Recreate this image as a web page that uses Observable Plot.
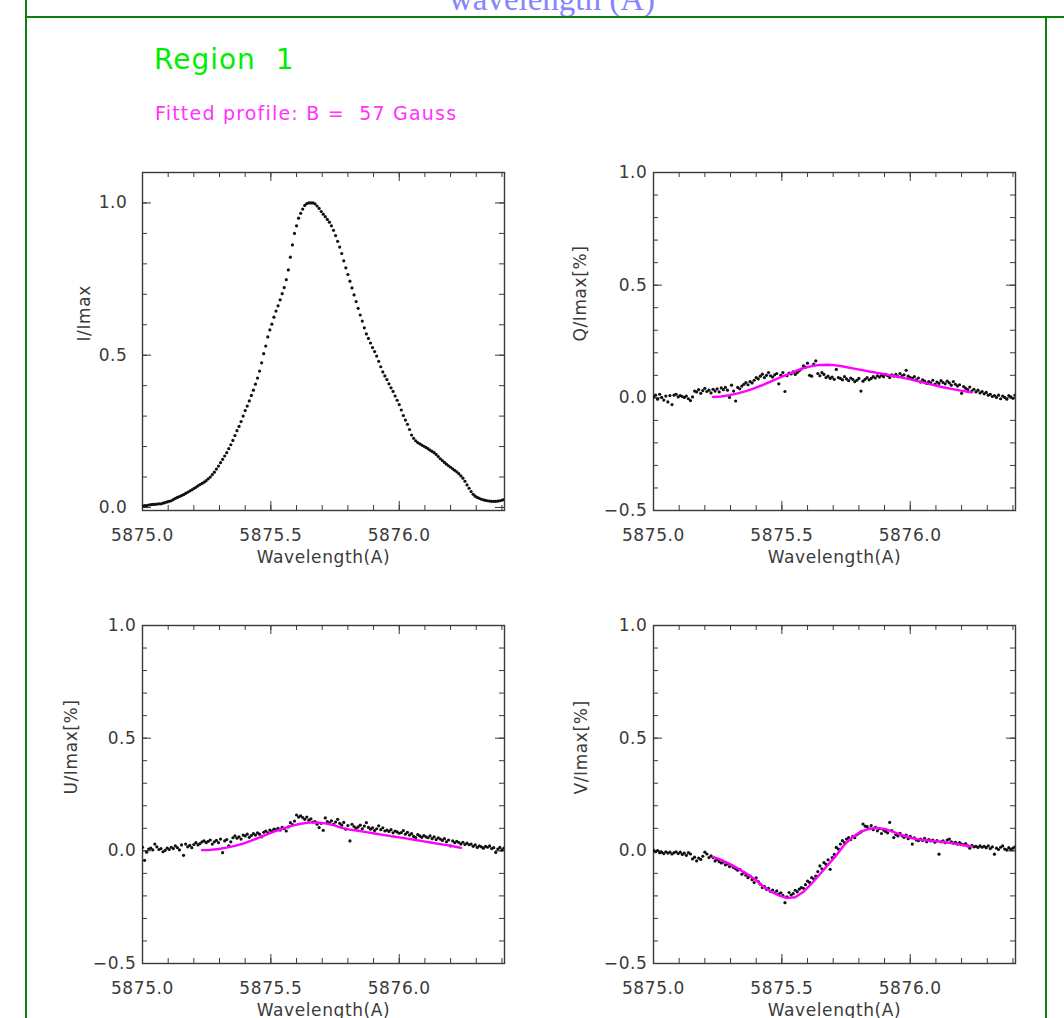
<!DOCTYPE html>
<html><head><meta charset="utf-8">
<script src="https://cdn.jsdelivr.net/npm/d3@7"></script>
<script src="https://cdn.jsdelivr.net/npm/@observablehq/plot@0.6"></script>
<style>
html,body{margin:0;padding:0;background:#fff;}
#page{position:relative;width:1064px;height:1018px;overflow:hidden;background:#fff;font-family:"DejaVu Sans",sans-serif;}
.abs{position:absolute;white-space:pre;}
.gl{position:absolute;background:#0b800b;}
#topword{left:0;width:1104px;top:-19px;text-align:center;font-family:"Liberation Serif",serif;font-size:33px;color:#8585ff;}
#region{left:154px;top:43px;font-size:28px;color:#00ee00;letter-spacing:1px;}
#fitted{left:155px;top:102px;font-size:19px;color:#ff33ff;letter-spacing:1.2px;}
</style></head><body><div id="page">
<div class="abs" id="topword">wavelength (Å)</div>
<div class="gl" style="left:25px;top:0;width:2px;height:1018px;"></div>
<div class="gl" style="left:26px;top:16px;width:1038px;height:2px;"></div>
<div class="gl" style="left:1045px;top:17px;width:2px;height:1001px;"></div>
<div class="abs" id="region">Region  1</div>
<div class="abs" id="fitted">Fitted profile: B =  57 Gauss</div>
</div>
<script>
// wavelength sampling, offsets from 5875.0 Å in mÅ
const offsetsMA = [0,8,16,24,32,40,48,56,64,72,80,88,96,104,112,120,128,136,144,152,160,168,176,184,192,200,208,216,224,232,240,248,256,264,272,280,288,296,304,312,320,328,336,344,352,360,368,376,384,392,400,408,416,424,432,440,448,456,464,472,480,488,496,504,512,520,528,536,544,552,560,568,576,584,592,600,608,616,624,632,640,648,656,664,672,680,688,696,704,712,720,728,736,744,752,760,768,776,784,792,800,808,816,824,832,840,848,856,864,872,880,888,896,904,912,920,928,936,944,952,960,968,976,984,992,1000,1008,1016,1024,1032,1040,1048,1056,1064,1072,1080,1088,1096,1104,1112,1120,1128,1136,1144,1152,1160,1168,1176,1184,1192,1200,1208,1216,1224,1232,1240,1248,1256,1264,1272,1280,1288,1296,1304,1312,1320,1328,1336,1344,1352,1360,1368,1376,1384,1392,1400,1408];

const stokesI = [
0.005,0.006,0.006,0.008,0.009,0.010,0.010,0.011,0.012,0.012,
0.014,0.016,0.018,0.020,0.022,0.026,0.030,0.033,0.036,0.039,
0.042,0.046,0.050,0.054,0.058,0.062,0.066,0.071,0.075,0.079,
0.083,0.088,0.094,0.100,0.108,0.116,0.126,0.136,0.147,0.158,
0.169,0.180,0.193,0.206,0.220,0.236,0.252,0.266,0.282,0.300,
0.318,0.333,0.350,0.368,0.385,0.405,0.425,0.448,0.475,0.505,
0.530,0.560,0.583,0.602,0.625,0.645,0.662,0.682,0.702,0.722,
0.748,0.780,0.822,0.862,0.900,0.925,0.950,0.966,0.980,0.992,
0.998,1.000,1.000,1.000,0.997,0.990,0.982,0.972,0.963,0.955,
0.946,0.937,0.925,0.910,0.893,0.874,0.855,0.834,0.810,0.787,
0.765,0.743,0.721,0.698,0.676,0.654,0.632,0.612,0.590,0.570,
0.555,0.540,0.525,0.512,0.497,0.480,0.462,0.445,0.432,0.420,
0.406,0.393,0.381,0.366,0.352,0.338,0.320,0.302,0.287,0.273,
0.256,0.238,0.227,0.219,0.213,0.209,0.205,0.201,0.197,0.193,
0.188,0.184,0.180,0.174,0.167,0.160,0.154,0.148,0.142,0.137,
0.132,0.127,0.122,0.117,0.111,0.104,0.096,0.086,0.074,0.063,
0.052,0.043,0.037,0.033,0.030,0.027,0.025,0.023,0.022,0.021,
0.020,0.020,0.020,0.021,0.022,0.024,0.026];

const stokesQ = [
0.004,0.012,-0.006,0.016,0.002,-0.010,0.008,-0.018,0.010,-0.030,
0.012,0.016,0.004,0.010,0.006,0.002,0.008,-0.004,-0.012,0.004,
0.030,0.026,0.036,0.020,0.032,0.042,0.028,0.034,0.022,0.038,
0.030,0.040,0.026,0.044,0.036,0.046,0.034,0.002,0.056,0.030,
-0.014,0.046,0.040,0.052,0.060,0.068,0.058,0.072,0.066,0.078,
0.090,0.084,0.096,0.105,0.090,0.100,0.112,0.098,0.092,0.102,
0.108,0.062,0.100,0.112,0.028,0.098,0.110,0.106,0.115,0.104,
0.112,0.120,0.128,0.142,0.136,0.154,0.100,0.096,0.150,0.164,
0.108,0.098,0.112,0.104,0.090,0.096,0.086,0.092,0.082,0.126,
0.090,0.086,0.080,0.094,0.084,0.076,0.088,0.082,0.072,0.078,
0.086,0.030,0.074,0.082,0.090,0.080,0.086,0.094,0.088,0.098,
0.092,0.100,0.094,0.104,0.098,0.090,0.102,0.096,0.104,0.094,
0.108,0.098,0.102,0.122,0.096,0.090,0.086,0.094,0.080,0.088,
0.070,0.080,0.074,0.064,0.072,0.066,0.078,0.060,0.070,0.064,
0.076,0.068,0.062,0.074,0.066,0.056,0.072,0.060,0.052,0.058,
0.020,0.050,0.042,0.036,0.048,0.030,0.038,0.026,0.034,0.022,
0.028,0.018,0.024,0.012,0.016,0.006,0.010,0.002,0.012,-0.004,
0.008,0.002,-0.006,0.010,0.004,-0.002,0.012];

const stokesU = [
0.016,-0.042,-0.006,0.008,0.012,0.004,0.030,0.018,0.006,0.010,
-0.004,0.002,0.012,0.006,0.016,0.010,0.022,0.014,0.004,0.026,
-0.020,0.030,0.018,0.024,0.014,0.028,0.036,0.026,0.032,0.040,
0.044,0.036,0.042,0.048,0.030,0.040,0.046,0.036,0.052,-0.008,
0.044,0.050,0.022,0.040,0.058,0.066,0.056,0.062,0.052,0.070,
0.066,0.074,0.060,0.068,0.076,0.070,0.080,0.074,0.062,0.082,
0.088,0.080,0.092,0.086,0.096,0.094,0.100,0.092,0.104,0.098,
0.088,0.106,0.125,0.116,0.132,0.159,0.150,0.155,0.148,0.140,
0.150,0.136,0.142,0.128,0.130,0.118,0.103,0.122,0.091,0.146,
0.130,0.124,0.133,0.118,0.128,0.140,0.122,0.114,0.126,0.096,
0.112,0.044,0.118,0.108,0.100,0.106,0.114,0.098,0.110,0.125,
0.104,0.096,0.102,0.090,0.098,0.111,0.094,0.102,0.088,0.092,
0.086,0.094,0.080,0.088,0.084,0.078,0.081,0.090,0.074,0.082,
0.070,0.076,0.064,0.059,0.072,0.066,0.060,0.068,0.062,0.058,
0.066,0.054,0.062,0.050,0.058,0.052,0.046,0.054,0.040,0.048,
0.022,0.044,0.036,0.042,0.037,0.030,0.038,0.028,0.034,0.027,
0.030,0.020,0.026,0.015,0.022,0.018,0.012,0.020,0.016,0.022,
0.010,0.014,-0.007,0.008,0.015,0.004,0.012];

const stokesV = [
0.002,-0.004,0.001,-0.008,-0.006,-0.012,-0.004,-0.010,-0.006,-0.014,
-0.008,-0.004,-0.012,-0.006,-0.016,-0.010,-0.020,-0.008,-0.014,-0.036,
-0.028,-0.045,-0.032,-0.038,-0.024,-0.006,-0.014,-0.030,-0.022,-0.030,
-0.045,-0.038,-0.048,-0.054,-0.050,-0.062,-0.058,-0.070,-0.066,-0.074,
-0.080,-0.086,-0.082,-0.104,-0.096,-0.108,-0.119,-0.112,-0.128,-0.141,
-0.120,-0.136,-0.148,-0.163,-0.158,-0.171,-0.166,-0.180,-0.174,-0.186,
-0.178,-0.192,-0.186,-0.198,-0.230,-0.204,-0.185,-0.196,-0.190,-0.175,
-0.182,-0.170,-0.163,-0.166,-0.150,-0.134,-0.140,-0.119,-0.124,-0.112,
-0.092,-0.067,-0.080,-0.052,-0.060,-0.040,-0.082,-0.030,-0.016,0.015,
0.008,0.030,0.045,0.036,0.052,0.059,0.050,0.064,0.058,0.071,
0.078,0.084,0.119,0.110,0.107,0.098,0.112,0.094,0.104,0.089,
0.098,0.077,0.092,0.086,0.080,0.126,0.090,0.059,0.072,0.066,
0.078,0.067,0.060,0.070,0.054,0.064,0.030,0.058,0.048,0.045,
0.052,0.046,0.055,0.040,0.050,0.044,0.048,0.038,0.045,-0.015,
0.040,0.044,0.036,0.048,0.052,0.040,0.034,0.038,0.030,0.036,
0.030,0.026,0.032,0.022,0.012,0.024,0.018,0.020,0.015,0.022,
0.016,0.020,0.014,0.022,0.010,0.018,-0.015,0.012,0.006,0.016,
0.022,0.008,0.004,0.014,0.007,0.012,0.018];

// fitted profiles (magenta)
const fitOffsetsMA = [232,264,296,328,360,392,424,456,488,520,552,584,616,648,680,712,744,776,808,840,872,904,936,968,1000,1032,1064,1096,1128,1160,1192,1224,1240];
const fitQ = [0.004,0.006,0.012,0.020,0.030,0.042,0.056,0.072,0.088,0.103,0.118,0.132,0.141,0.146,0.147,0.144,0.138,0.131,0.124,0.117,0.111,0.104,0.097,0.090,0.082,0.073,0.064,0.055,0.047,0.040,0.033,0.027,0.024];
const fitU = [0.003,0.004,0.008,0.014,0.022,0.032,0.045,0.060,0.074,0.088,0.101,0.112,0.120,0.125,0.126,0.122,0.114,0.102,0.094,0.089,0.083,0.077,0.071,0.065,0.060,0.054,0.048,0.042,0.036,0.030,0.024,0.017,0.013];
const fitV = [-0.027,-0.040,-0.058,-0.078,-0.100,-0.124,-0.155,-0.180,-0.198,-0.210,-0.206,-0.182,-0.145,-0.104,-0.062,-0.020,0.028,0.062,0.085,0.098,0.102,0.096,0.083,0.070,0.058,0.051,0.047,0.043,0.039,0.034,0.028,0.022,0.019];

// axes
const xMinorTicks = [5875.0,5875.1,5875.2,5875.3,5875.4,5875.5,5875.6,5875.7,5875.8,5875.9,5876.0,5876.1,5876.2,5876.3,5876.4];
const xMajorTicks = [5875.0,5875.5,5876.0];
const yMinorI = [0.0,0.1,0.2,0.3,0.4,0.5,0.6,0.7,0.8,0.9,1.0];
const yMajorI = [0.0,0.5,1.0];
const yMinorP = [-0.5,-0.4,-0.3,-0.2,-0.1,0.0,0.1,0.2,0.3,0.4,0.5,0.6,0.7,0.8,0.9,1.0];
const yMajorP = [-0.5,0.0,0.5,1.0];
const xTitle = "Wavelength(A)";
const yTitles = ["I/Imax", "Q/Imax[%]", "U/Imax[%]", "V/Imax[%]"];

const wavelength = offsetsMA.map(d => 5875 + d / 1000);
const fitWavelength = fitOffsetsMA.map(d => 5875 + d / 1000);

const FW = 362, FH = 338, ML = 100, MR = 10, MT = 10, MB = 60;
const INK = "#3a3a3a";
const fmt = d3.format(".1f");

function panel({left, top, yDomain, yMinor, yMajor, yTitle, yTitleOffset, yPad, values, fit}) {
  const rows = wavelength.map((x, i) => ({x, y: values[i]}));
  const marks = [
    Plot.frame({stroke: INK, strokeWidth: 1.4}),
    Plot.tickY(yMinor, {y: d => d, insetRight: FW - 5, stroke: INK}),
    Plot.tickY(yMinor, {y: d => d, insetLeft: FW - 5, stroke: INK}),
    Plot.tickY(yMajor, {y: d => d, insetRight: FW - 9, stroke: INK}),
    Plot.tickY(yMajor, {y: d => d, insetLeft: FW - 9, stroke: INK}),
    Plot.tickX(xMinorTicks, {x: d => d, insetTop: FH - 5, stroke: INK}),
    Plot.tickX(xMinorTicks, {x: d => d, insetBottom: FH - 5, stroke: INK}),
    Plot.tickX(xMajorTicks, {x: d => d, insetTop: FH - 9, stroke: INK}),
    Plot.tickX(xMajorTicks, {x: d => d, insetBottom: FH - 9, stroke: INK}),
    Plot.axisX({ticks: xMajorTicks, anchor: "bottom", tickSize: 0, tickPadding: 18, tickFormat: fmt, label: null, fill: INK}),
    Plot.axisY({ticks: yMajor, anchor: "left", tickSize: 0, tickPadding: yPad, tickFormat: fmt, label: null, fill: INK}),
    Plot.text([xTitle], {text: d => d, frameAnchor: "bottom", dy: 52, lineAnchor: "bottom", fill: INK}),
    Plot.text([yTitle], {text: d => d, frameAnchor: "left", dx: -yTitleOffset, rotate: -90, lineAnchor: "middle", fill: INK}),
    Plot.dot(rows, {x: "x", y: "y", r: 1.6, fill: "#111", clip: true})
  ];
  if (fit) {
    const fitRows = fitWavelength.map((x, i) => ({x, y: fit[i]}));
    marks.push(Plot.line(fitRows, {x: "x", y: "y", stroke: "#ff00ff", strokeWidth: 2.4}));
  }
  const chart = Plot.plot({
    width: FW + ML + MR, height: FH + MT + MB,
    marginLeft: ML, marginRight: MR, marginTop: MT, marginBottom: MB,
    x: {domain: [5875.0, 5876.41], axis: null},
    y: {domain: yDomain, axis: null},
    style: {fontFamily: "DejaVu Sans, sans-serif", fontSize: "17px", letterSpacing: "0.6px", color: INK, background: "transparent", overflow: "visible"},
    marks
  });
  chart.style.position = "absolute";
  chart.style.left = left + "px";
  chart.style.top = top + "px";
  document.getElementById("page").appendChild(chart);
}

panel({left: 42, top: 162, yDomain: [-0.01, 1.1], yMinor: yMinorI, yMajor: yMajorI, yTitle: yTitles[0], yTitleOffset: 58, yPad: 15, values: stokesI, fit: null});
panel({left: 553, top: 162, yDomain: [-0.5, 1.0], yMinor: yMinorP, yMajor: yMajorP, yTitle: yTitles[1], yTitleOffset: 73, yPad: 6, values: stokesQ, fit: fitQ});
panel({left: 42, top: 615, yDomain: [-0.5, 1.0], yMinor: yMinorP, yMajor: yMajorP, yTitle: yTitles[2], yTitleOffset: 71, yPad: 6, values: stokesU, fit: fitU});
panel({left: 553, top: 615, yDomain: [-0.5, 1.0], yMinor: yMinorP, yMajor: yMajorP, yTitle: yTitles[3], yTitleOffset: 72, yPad: 6, values: stokesV, fit: fitV});
</script>
</body></html>
